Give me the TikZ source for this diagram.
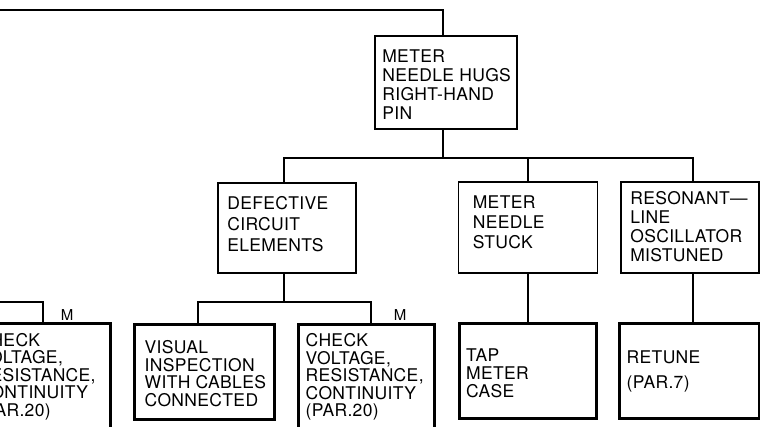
\documentclass[tikz,border=0pt]{standalone}
\usepackage{fontspec}
\setmainfont{TeX Gyre Heros}[LetterSpace=2]
\begin{document}
\begin{tikzpicture}[x=1pt,y=-1pt,
  conn/.style={line width=1.4pt},
  upbox/.style={draw, line width=1.8pt, rectangle, inner sep=0pt},
  lowbox/.style={draw, line width=3pt, rectangle, inner sep=0pt},
  txt/.style={anchor=west, align=left, inner sep=0pt, font=\fontsize{17.5}{19}\selectfont},
  ltxt/.style={anchor=west, align=left, inner sep=0pt, font=\fontsize{17.5}{17.5}\selectfont},
  mlab/.style={inner sep=0pt, font=\fontsize{15}{16}\selectfont}]
\useasboundingbox (0,0) rectangle (760,426);
% upper boxes
\node[upbox, minimum width=142pt, minimum height=93pt] (top) at (446,82.5) {};
\node[upbox, minimum width=138pt, minimum height=90pt] (def) at (287,228) {};
\node[upbox, minimum width=139pt, minimum height=91pt] (stuck) at (528,227.5) {};
\node[upbox, minimum width=138pt, minimum height=91pt] (reson) at (690,227.5) {};
% lower boxes
\node[lowbox, minimum width=140pt, minimum height=107pt] (chka) at (40,376.5) {};
\node[lowbox, minimum width=140pt, minimum height=95pt] (vis) at (204,371.5) {};
\node[lowbox, minimum width=136pt, minimum height=106pt] (chkb) at (366,377) {};
\node[lowbox, minimum width=137pt, minimum height=95pt] (tap) at (528,370.5) {};
\node[lowbox, minimum width=140pt, minimum height=95pt] (ret) at (689,370.5) {};
% texts
\node[txt] (ttop) at ([xshift=8pt,yshift=-2pt]top.west) {METER\\NEEDLE HUGS\\RIGHT-HAND\\PIN};
\node[txt, font=\fontsize{17.5}{21}\selectfont] (tdef) at ([xshift=10pt,yshift=4pt]def.west) {DEFECTIVE\\CIRCUIT\\ELEMENTS};
\node[txt, font=\fontsize{17.5}{20}\selectfont] (tstuck) at ([xshift=15pt,yshift=5pt]stuck.west) {METER\\NEEDLE\\STUCK};
\node[txt] (treson) at ([xshift=10pt,yshift=1pt]reson.west) {RESONANT---\\LINE\\OSCILLATOR\\MISTUNED};
\node[ltxt] (tchka) at ([xshift=9pt,yshift=0pt]chka.west) {CHECK\\VOLTAGE,\\RESISTANCE,\\CONTINUITY\\(PAR.20)};
\node[ltxt] (tvis) at ([xshift=12pt,yshift=-2pt]vis.west) {VISUAL\\INSPECTION\\WITH CABLES\\CONNECTED};
\node[ltxt] (tchkb) at ([xshift=9pt,yshift=0pt]chkb.west) {CHECK\\VOLTAGE,\\RESISTANCE,\\CONTINUITY\\(PAR.20)};
\node[ltxt, font=\fontsize{17.5}{18}\selectfont] (ttap) at ([xshift=8pt,yshift=-3pt]tap.west) {TAP\\METER\\CASE};
\node[ltxt, font=\fontsize{17.5}{25}\selectfont] (tret) at ([xshift=9pt,yshift=-1pt]ret.west) {RETUNE\\(PAR.7)};
% M labels
\node[mlab] (m1) at (67,315) {M};
\node[mlab] (m2) at (400,315) {M};
% connectors
\coordinate (topin) at (0,10);
\coordinate (bus1) at (0,158);
\coordinate (bus2) at (0,302);
\draw[conn] (topin) -| ([xshift=-3pt]top.north);
\draw[conn] ([xshift=-3pt]top.south) -- ([xshift=-3pt]top.south |- bus1);
\draw[conn] ([xshift=-3pt]def.north) |- ([xshift=3pt]reson.north |- bus1) -- ([xshift=3pt]reson.north);
\draw[conn] (stuck.north) -- (stuck.north |- bus1);
\draw[conn] ([xshift=-3pt]def.south) -- ([xshift=-3pt]def.south |- bus2);
\draw[conn] ([xshift=-6pt]vis.north) |- ([xshift=5pt]chkb.north |- bus2) -- ([xshift=5pt]chkb.north);
\draw[conn] (bus2) -| ([xshift=3pt]chka.north);
\draw[conn] (stuck.south) -- (tap.north);
\draw[conn] ([xshift=3pt]reson.south) -- ([xshift=4pt]ret.north);
\end{tikzpicture}
\end{document}
